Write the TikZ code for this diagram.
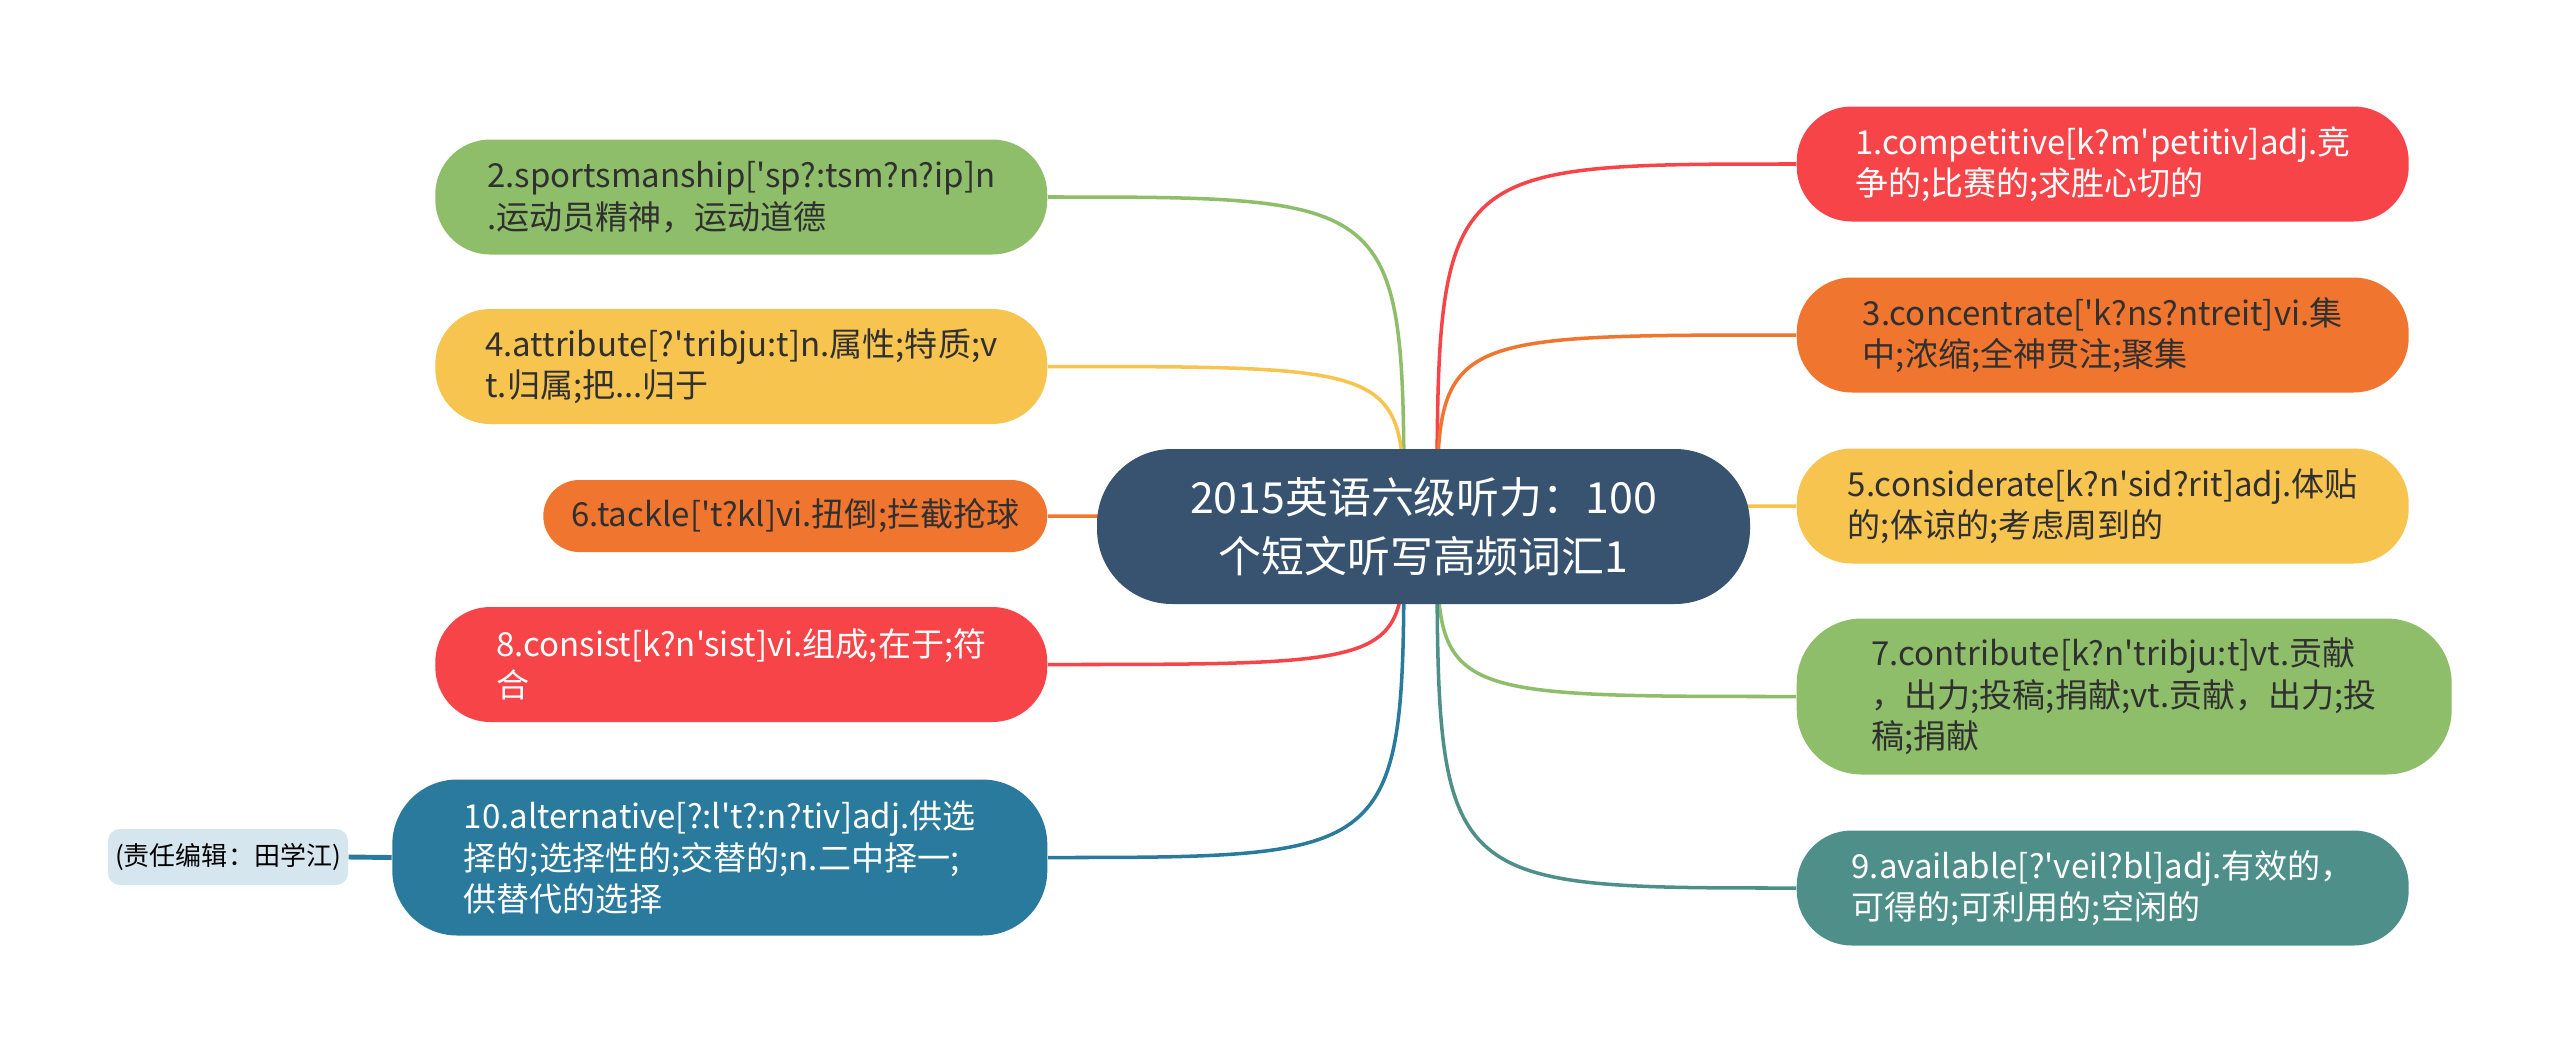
\documentclass[tikz,border=0pt]{standalone}
\usepackage{fontspec}
\setmainfont{Noto Sans CJK SC}[Ligatures=TeXOff]
\usetikzlibrary{positioning}

\definecolor{cgreen}{HTML}{8FBE6A}
\definecolor{cyellow}{HTML}{F7C44F}
\definecolor{corange}{HTML}{F0752F}
\definecolor{cred}{HTML}{F74448}
\definecolor{cblue}{HTML}{2A7A9E}
\definecolor{cteal}{HTML}{4E8F8A}
\definecolor{croot}{HTML}{37536F}
\definecolor{cnote}{HTML}{D6E6EF}
\definecolor{ctext}{HTML}{303030}

\begin{document}
\begin{tikzpicture}
            [every node/.style={inner sep=0pt},
             leaf/.style={rounded corners=0.55cm, minimum width=6.12cm, minimum height=1.15cm, align=left, font=\fontsize{9.4}{11.8}\selectfont},
             big/.style={leaf, rounded corners=0.65cm, minimum width=6.55cm, minimum height=1.56cm},
             dark/.style={text=ctext},
             light/.style={text=white},
             link/.style={line width=1pt}]
            \fill[white] (0,0) rectangle (25.6,10.55);
            \useasboundingbox (0,0) rectangle (25.6,10.55);

            % left side
            \node[leaf, fill=cgreen, dark, anchor=east] (n2) at (10.48,8.58) {2.sportsmanship['sp?:tsm?n?ip]n\\.运动员精神，运动道德};
            \node[leaf, fill=cyellow, dark, anchor=east] (n4) at (10.48,6.885) {4.attribute[?'tribju:t]n.属性;特质;v\\t.归属;把...归于};
            \node[leaf, fill=corange, dark, anchor=east, rounded corners=0.36cm, minimum width=5.04cm, minimum height=0.72cm] (n6) at (10.48,5.39) {6.tackle['t?kl]vi.扭倒;拦截抢球};
            \node[leaf, fill=cred, light, anchor=east] (n8) at (10.48,3.905) {8.consist[k?n'sist]vi.组成;在于;符\\合};
            \node[big, fill=cblue, light, anchor=east] (n10) at (10.48,1.975) {10.alternative[?:l't?:n?tiv]adj.供选\\择的;选择性的;交替的;n.二中择一;\\供替代的选择};
            \node[fill=cnote, text=black, rounded corners=0.12cm, minimum width=2.4cm, minimum height=0.56cm, font=\fontsize{7.4}{9}\selectfont] (note) at (2.28,1.98) {(责任编辑：田学江)};

            % right side
            \node[leaf, fill=cred, light, anchor=west] (n1) at (17.96,8.91) {1.competitive[k?m'petitiv]adj.竞\\争的;比赛的;求胜心切的};
            \node[leaf, fill=corange, dark, anchor=west] (n3) at (17.96,7.20) {3.concentrate['k?ns?ntreit]vi.集\\中;浓缩;全神贯注;聚集};
            \node[leaf, fill=cyellow, dark, anchor=west] (n5) at (17.96,5.49) {5.considerate[k?n'sid?rit]adj.体贴\\的;体谅的;考虑周到的};
            \node[big, fill=cgreen, dark, anchor=west] (n7) at (17.96,3.585) {7.contribute[k?n'tribju:t]vt.贡献\\，出力;投稿;捐献;vt.贡献，出力;投\\稿;捐献};
            \node[leaf, fill=cteal, light, anchor=west] (n9) at (17.96,1.67) {9.available[?'veil?bl]adj.有效的，\\可得的;可利用的;空闲的};

            \coordinate (rl) at (14.04,5.285);
            \coordinate (rr) at (14.37,5.285);

            \foreach \to/\col in {n2/cgreen, n4/cyellow, n6/corange, n8/cred, n10/cblue}
            \draw[link, \col] (rl) .. controls (rl |- \to.east) .. (\to.east);
            \foreach \to/\col in {n1/cred, n3/corange, n5/cyellow, n7/cgreen, n9/cteal}
            \draw[link, \col] (rr) .. controls (rr |- \to.west) .. (\to.west);
            \draw[cblue, line width=1.4pt] (note.east) -- (n10.west);

            \node[fill=croot, text=white, rounded corners=0.75cm, minimum width=6.53cm, minimum height=1.55cm, align=center, font=\fontsize{12.2}{16.7}\selectfont] (root) at (14.235,5.285) {2015英语六级听力：100\\个短文听写高频词汇1};
          \end{tikzpicture}
\end{document}
